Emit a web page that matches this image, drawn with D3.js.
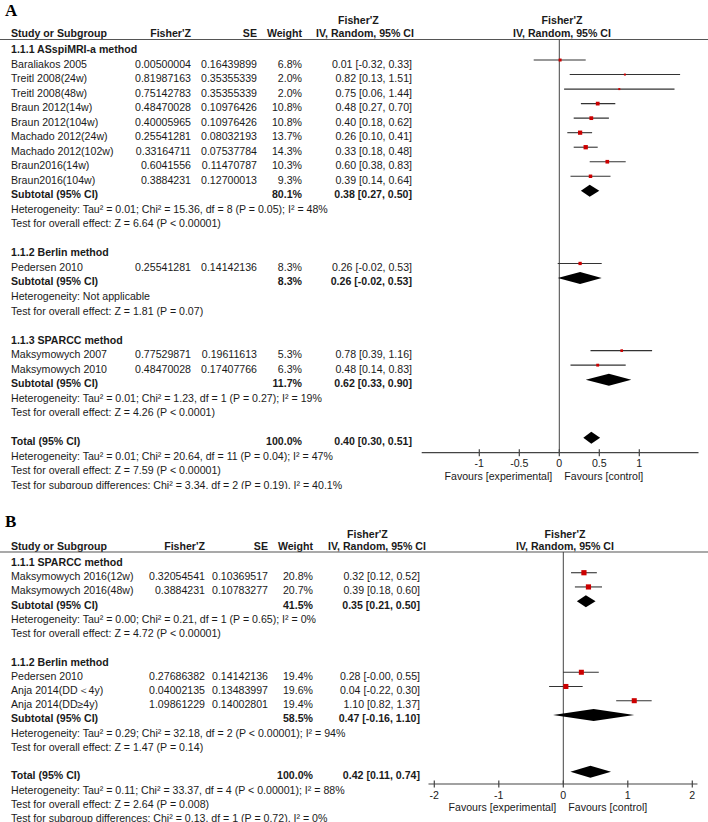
<!DOCTYPE html>
<html><head><meta charset="utf-8">
<script src="https://cdn.jsdelivr.net/npm/d3@7"></script>
<style>
body{margin:0;background:#fff}
svg{display:block}
text{font-family:"Liberation Sans",Arial,sans-serif;font-size:10.6px;fill:#1a1a1a}
.b{font-weight:bold}
.letter{font-family:"Liberation Serif","Times New Roman",serif;font-size:17px;font-weight:bold;fill:#000}
</style>
</head><body><svg id="c" width="708" height="822"></svg>
<script>
// ---------- Panel A data ----------
const studiesA = ["Baraliakos 2005","Treitl 2008(24w)","Treitl 2008(48w)","Braun 2012(14w)","Braun 2012(104w)","Machado 2012(24w)","Machado 2012(102w)","Braun2016(14w)","Braun2016(104w)","Pedersen 2010","Maksymowych 2007","Maksymowych 2010"];
const fisherZA = ["0.00500004","0.81987163","0.75142783","0.48470028","0.40005965","0.25541281","0.33164711","0.6041556","0.3884231","0.25541281","0.77529871","0.48470028"];
const seA = ["0.16439899","0.35355339","0.35355339","0.10976426","0.10976426","0.08032193","0.07537784","0.11470787","0.12700013","0.14142136","0.19611613","0.17407766"];
const weightA = [6.8,2.0,2.0,10.8,10.8,13.7,14.3,10.3,9.3,8.3,5.3,6.3];
const estA = [0.01,0.82,0.75,0.48,0.40,0.26,0.33,0.60,0.39,0.26,0.78,0.48];
const lowA = [-0.32,0.13,0.06,0.27,0.18,0.10,0.18,0.38,0.14,-0.02,0.39,0.14];
const highA = [0.33,1.51,1.44,0.70,0.62,0.41,0.48,0.83,0.64,0.53,1.16,0.83];
const groupOfA = [0,0,0,0,0,0,0,0,0,1,2,2];
const groupNamesA = ["1.1.1 ASspiMRI-a method","1.1.2 Berlin method","1.1.3 SPARCC method"];
const subWeightA = [80.1,8.3,11.7];
const subEstA = [0.38,0.26,0.62];
const subLowA = [0.27,-0.02,0.33];
const subHighA = [0.50,0.53,0.90];
const subHetA = ["Heterogeneity: Tau\u00b2 = 0.01; Chi\u00b2 = 15.36, df = 8 (P = 0.05); I\u00b2 = 48%","Heterogeneity: Not applicable","Heterogeneity: Tau\u00b2 = 0.01; Chi\u00b2 = 1.23, df = 1 (P = 0.27); I\u00b2 = 19%"];
const subTestA = ["Test for overall effect: Z = 6.64 (P < 0.00001)","Test for overall effect: Z = 1.81 (P = 0.07)","Test for overall effect: Z = 4.26 (P < 0.0001)"];
const totalA = [100.0,0.40,0.30,0.51];
const totalNotesA = ["Heterogeneity: Tau\u00b2 = 0.01; Chi\u00b2 = 20.64, df = 11 (P = 0.04); I\u00b2 = 47%","Test for overall effect: Z = 7.59 (P < 0.00001)","Test for subgroup differences: Chi\u00b2 = 3.34, df = 2 (P = 0.19), I\u00b2 = 40.1%"];
const ticksA = [-1,-0.5,0,0.5,1];
const tickLabelsA = ["-1","-0.5","0","0.5","1"];

// ---------- Panel B data ----------
const studiesB = ["Maksymowych 2016(12w)","Maksymowych 2016(48w)","Pedersen 2010","Anja 2014(DD\uff1c4y)","Anja 2014(DD\u22654y)"];
const fisherZB = ["0.32054541","0.3884231","0.27686382","0.04002135","1.09861229"];
const seB = ["0.10369517","0.10783277","0.14142136","0.13483997","0.14002801"];
const weightB = [20.8,20.7,19.4,19.6,19.4];
const estB = [0.32,0.39,0.28,0.04,1.10];
const lowB = [0.12,0.18,-0.004,-0.22,0.82];
const highB = [0.52,0.60,0.55,0.30,1.37];
const groupOfB = [0,0,1,1,1];
const groupNamesB = ["1.1.1 SPARCC method","1.1.2 Berlin method"];
const subWeightB = [41.5,58.5];
const subEstB = [0.35,0.47];
const subLowB = [0.21,-0.16];
const subHighB = [0.50,1.10];
const subHetB = ["Heterogeneity: Tau\u00b2 = 0.00; Chi\u00b2 = 0.21, df = 1 (P = 0.65); I\u00b2 = 0%","Heterogeneity: Tau\u00b2 = 0.29; Chi\u00b2 = 32.18, df = 2 (P < 0.00001); I\u00b2 = 94%"];
const subTestB = ["Test for overall effect: Z = 4.72 (P < 0.00001)","Test for overall effect: Z = 1.47 (P = 0.14)"];
const totalB = [100.0,0.42,0.11,0.74];
const totalNotesB = ["Heterogeneity: Tau\u00b2 = 0.11; Chi\u00b2 = 33.37, df = 4 (P < 0.00001); I\u00b2 = 88%","Test for overall effect: Z = 2.64 (P = 0.008)","Test for subgroup differences: Chi\u00b2 = 0.13, df = 1 (P = 0.72), I\u00b2 = 0%"];
const ticksB = [-2,-1,0,1,2];
const tickLabelsB = ["-2","-1","0","1","2"];

const svg = d3.select("#c");
const f2 = v => v.toFixed(2);
const ciText = (e,l,h) => `${f2(e)} [${f2(l)}, ${f2(h)}]`;
const sizeScale = d3.scaleSqrt().domain([0,20.8]).range([0,5.2]);

function buildRows(d){
  const rows = [];
  d.groupNames.forEach((gn,g)=>{
    rows.push({t:"group",text:gn});
    d.studies.forEach((s,i)=>{ if(d.groupOf[i]===g) rows.push({t:"study",i}); });
    rows.push({t:"sub",g});
    rows.push({t:"note",text:d.subHet[g]});
    rows.push({t:"note",text:d.subTest[g]});
    rows.push({t:"blank"});
  });
  rows.push({t:"total"});
  d.totalNotes.forEach(n=>rows.push({t:"note",text:n}));
  return rows;
}

function drawPanel(d, L){
  const g = svg.append("g");
  if(L.clip){
    const id = "clip"+L.letter;
    svg.append("clipPath").attr("id",id).append("rect").attr("x",0).attr("y",L.clip[0]).attr("width",708).attr("height",L.clip[1]-L.clip[0]);
    g.attr("clip-path",`url(#${id})`);
  }
  g.append("text").attr("class","letter").attr("x",L.letterX).attr("y",L.letterY).text(L.letter);
  // headers
  g.append("text").attr("class","b").attr("x",L.ciHead1X).attr("y",L.head1Y).text("Fisher'Z");
  g.append("text").attr("class","b").attr("x",L.plotHeadX).attr("y",L.head1Y).attr("text-anchor","middle").text("Fisher'Z");
  const h2 = [["Study or Subgroup",L.studyX,"start"],["Fisher'Z",L.fzR,"end"],["SE",L.seR,"end"],["Weight",L.wR,"end"],["IV, Random, 95% CI",L.ciHead2X,"start"],["IV, Random, 95% CI",L.plotHeadX,"middle"]];
  g.selectAll(null).data(h2).enter().append("text").attr("class","b")
    .attr("x",r=>r[1]).attr("y",L.head2Y).attr("text-anchor",r=>r[2]).text(r=>r[0]);
  g.append("line").attr("x1",0).attr("x2",708).attr("y1",L.lineY).attr("y2",L.lineY).attr("stroke","#555").attr("stroke-width",1.2);

  const x = d3.scaleLinear().domain(L.domain).range(L.range);
  // zero line & axis
  g.append("line").attr("x1",x(0)).attr("x2",x(0)).attr("y1",L.lineY).attr("y2",L.axisY).attr("stroke","#444").attr("stroke-width",1);
  g.append("line").attr("x1",x(L.extent[0])).attr("x2",x(L.extent[1])).attr("y1",L.axisY).attr("y2",L.axisY).attr("stroke","#444").attr("stroke-width",1.2);
  const tk = g.selectAll(".tk").data(d.ticks).enter().append("g").attr("transform",v=>`translate(${x(v)},0)`);
  tk.append("line").attr("y1",L.axisY-3.5).attr("y2",L.axisY+3.5).attr("stroke","#444").attr("stroke-width",1.2);
  tk.append("text").attr("y",L.tickLabY).attr("text-anchor","middle").text((v,i)=>d.tickLabels[i]);
  g.append("text").attr("x",x(0)-7).attr("y",L.favY).attr("text-anchor","end").text("Favours [experimental]");
  g.append("text").attr("x",x(0)+5).attr("y",L.favY).attr("text-anchor","start").text("Favours [control]");

  const rows = buildRows(d);
  const yc = k => L.row0 + k*L.step; // visual center of text row
  rows.forEach((r,k)=>{
    const base = yc(k)+4, my = yc(k)-3.5;
    if(r.t==="group"){
      g.append("text").attr("class","b").attr("x",L.studyX).attr("y",base).text(r.text);
    } else if(r.t==="note"){
      g.append("text").attr("x",L.studyX).attr("y",base).text(r.text);
    } else if(r.t==="study"){
      const i=r.i;
      g.append("text").attr("x",L.studyX).attr("y",base).text(d.studies[i]);
      g.append("text").attr("x",L.fzR).attr("y",base).attr("text-anchor","end").text(d.fz[i]);
      g.append("text").attr("x",L.seR).attr("y",base).attr("text-anchor","end").text(d.se[i]);
      g.append("text").attr("x",L.wR).attr("y",base).attr("text-anchor","end").text(d.weight[i].toFixed(1)+"%");
      g.append("text").attr("x",L.ciR).attr("y",base).attr("text-anchor","end").text(ciText(d.est[i],d.low[i],d.high[i]));
      g.append("line").attr("x1",x(d.low[i])).attr("x2",x(d.high[i])).attr("y1",my).attr("y2",my).attr("stroke","#333").attr("stroke-width",1.1);
      const s = Math.max(2, sizeScale(d.weight[i]));
      g.append("rect").attr("x",x(d.est[i])-s/2).attr("y",my-s/2).attr("width",s).attr("height",s).attr("fill","#cc0000");
    } else if(r.t==="sub" || r.t==="total"){
      let w,e,l,h,label;
      if(r.t==="sub"){ w=d.subWeight[r.g]; e=d.subEst[r.g]; l=d.subLow[r.g]; h=d.subHigh[r.g]; label="Subtotal (95% CI)"; }
      else { [w,e,l,h]=d.total; label="Total (95% CI)"; }
      g.append("text").attr("class","b").attr("x",L.studyX).attr("y",base).text(label);
      g.append("text").attr("class","b").attr("x",L.wR).attr("y",base).attr("text-anchor","end").text(w.toFixed(1)+"%");
      g.append("text").attr("class","b").attr("x",L.ciR).attr("y",base).attr("text-anchor","end").text(ciText(e,l,h));
      const hh = L.diamondH/2;
      g.append("path").attr("d",`M${x(l)},${my}L${x(e)},${my-hh}L${x(h)},${my}L${x(e)},${my+hh}Z`).attr("fill","#000");
    }
  });
}

const dataA = {studies:studiesA,fz:fisherZA,se:seA,weight:weightA,est:estA,low:lowA,high:highA,groupOf:groupOfA,groupNames:groupNamesA,subWeight:subWeightA,subEst:subEstA,subLow:subLowA,subHigh:subHighA,subHet:subHetA,subTest:subTestA,total:totalA,totalNotes:totalNotesA,ticks:ticksA,tickLabels:tickLabelsA};
const dataB = {studies:studiesB,fz:fisherZB,se:seB,weight:weightB,est:estB,low:lowB,high:highB,groupOf:groupOfB,groupNames:groupNamesB,subWeight:subWeightB,subEst:subEstB,subLow:subLowB,subHigh:subHighB,subHet:subHetB,subTest:subTestB,total:totalB,totalNotes:totalNotesB,ticks:ticksB,tickLabels:tickLabelsB};

drawPanel(dataA,{letter:"A",letterX:5,letterY:16,clip:[0,489],head1Y:23.5,head2Y:37,lineY:39.5,studyX:11,fzR:191,seR:257,wR:302,ciR:412,ciHead1X:338,ciHead2X:316,plotHeadX:562,
  domain:[-1,1],range:[479.3,639.3],extent:[-1.72,1.74],axisY:452.7,tickLabY:467,favY:479.5,row0:49,step:14.53,diamondH:12});
drawPanel(dataB,{letter:"B",letterX:5,letterY:527,clip:null,head1Y:538,head2Y:549.5,lineY:552,studyX:11,fzR:205,seR:268,wR:313,ciR:420,ciHead1X:347,ciHead2X:328,plotHeadX:565,
  domain:[-2,2],range:[434.3,692.3],extent:[-2.09,2.08],axisY:784,tickLabY:799,favY:811,row0:562,step:14.22,diamondH:12});
</script>
</body></html>
